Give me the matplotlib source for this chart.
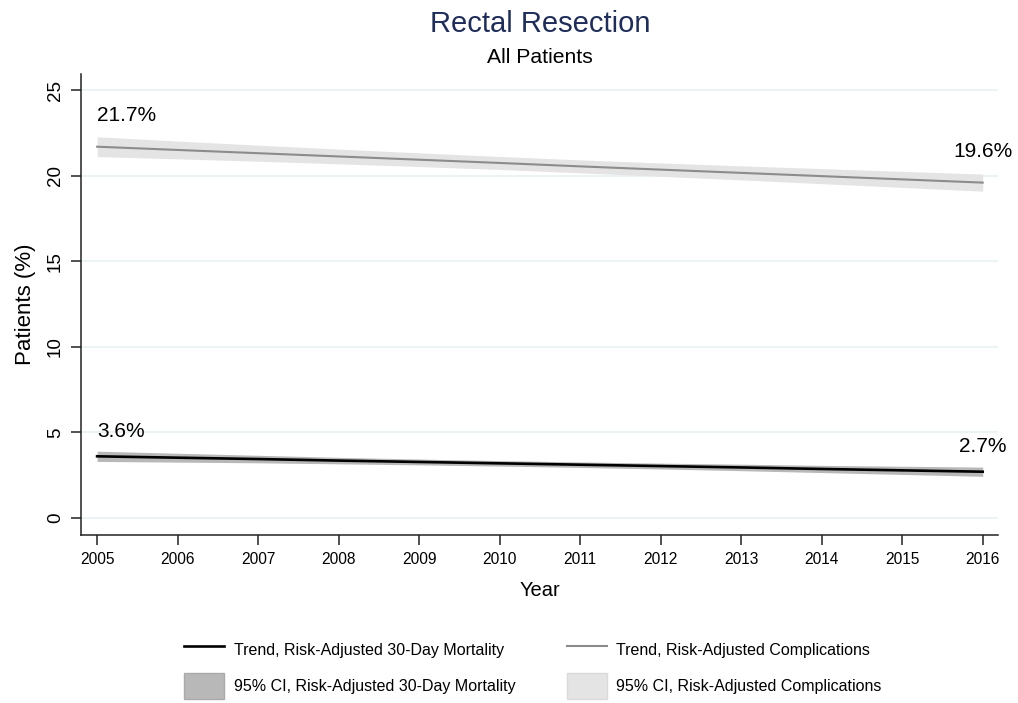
import matplotlib
matplotlib.use("Agg")
import matplotlib.pyplot as plt
from matplotlib.lines import Line2D
from matplotlib.patches import Patch

plt.rcParams['font.family'] = ['Liberation Sans', 'DejaVu Sans']

years = [2005, 2006, 2007, 2008, 2009, 2010, 2011, 2012, 2013, 2014, 2015, 2016]
comp = [21.70, 21.51, 21.32, 21.13, 20.94, 20.75, 20.55, 20.36, 20.17, 19.98, 19.79, 19.60]
comp_lo = [21.12, 20.99, 20.85, 20.70, 20.54, 20.37, 20.17, 19.97, 19.76, 19.54, 19.32, 19.10]
comp_hi = [22.28, 22.03, 21.79, 21.56, 21.34, 21.13, 20.93, 20.75, 20.58, 20.42, 20.26, 20.10]
mort = [3.60, 3.52, 3.44, 3.35, 3.27, 3.19, 3.11, 3.03, 2.95, 2.86, 2.78, 2.70]
mort_lo = [3.30, 3.26, 3.22, 3.16, 3.10, 3.03, 2.95, 2.86, 2.76, 2.65, 2.54, 2.43]
mort_hi = [3.90, 3.78, 3.66, 3.54, 3.44, 3.35, 3.27, 3.20, 3.14, 3.07, 3.02, 2.97]
yticks = [0, 5, 10, 15, 20, 25]

legend_labels = ["Trend, Risk-Adjusted 30-Day Mortality",
                 "95% CI, Risk-Adjusted 30-Day Mortality",
                 "Trend, Risk-Adjusted Complications",
                 "95% CI, Risk-Adjusted Complications"]

W, H = 1018, 703
fig = plt.figure(figsize=(W / 100, H / 100), dpi=100)
ax = fig.add_axes([81 / W, 1 - 535 / H, (998 - 81) / W, (535 - 74) / H])

C_COMP = '#8c8c8c'
C_COMP_CI = '#e4e4e4'
C_MORT = '#000000'
C_MORT_CI = '#b8b8b8'

ax.fill_between(years, comp_lo, comp_hi, color=C_COMP_CI, lw=0, zorder=2)
ax.fill_between(years, mort_lo, mort_hi, color=C_MORT_CI, lw=0, zorder=2)
ax.plot(years, comp, color=C_COMP, lw=1.5, zorder=3)
ax.plot(years, mort, color=C_MORT, lw=1.9, zorder=3)

# annotations
ax.text(years[0], comp[0] + 1.5, f"{comp[0]:.1f}%", ha='left', va='baseline', fontsize=15)
ax.text(years[-1], comp[-1] + 1.5, f"{comp[-1]:.1f}%", ha='center', va='baseline', fontsize=15)
ax.text(years[0], mort[0] + 1.12, f"{mort[0]:.1f}%", ha='left', va='baseline', fontsize=15)
ax.text(years[-1], mort[-1] + 1.15, f"{mort[-1]:.1f}%", ha='center', va='baseline', fontsize=15)

ax.set_xlim(2004.8, 2016.19)
ax.set_ylim(-1.0, 25.95)
ax.set_xticks(years)
ax.set_xticklabels([str(y) for y in years])
ax.set_yticks(yticks)
ax.set_yticklabels([str(t) for t in yticks])

for s in ['top', 'right']:
    ax.spines[s].set_visible(False)
for s in ['left', 'bottom']:
    ax.spines[s].set_linewidth(1.1)
    ax.spines[s].set_color('#222222')

ax.grid(axis='y', color='#eaf2f3', lw=1.3, zorder=0)
ax.set_axisbelow(True)
ax.tick_params(axis='x', length=7.2, width=1.1, color='#222222', labelsize=11.2, pad=5)
ax.tick_params(axis='y', length=7.2, width=1.1, color='#222222', labelsize=13.5, pad=5,
               labelrotation=90)
for lab in ax.get_yticklabels():
    lab.set_va('center')
    lab.set_ha('right')

ax.set_xlabel("Year", fontsize=14.5, labelpad=10)
ax.set_ylabel("Patients (%)", fontsize=16, labelpad=8)

fig.text(540 / W, 1 - 32 / H, "Rectal Resection", ha='center', va='baseline',
         fontsize=21, color='#1f2d5a')
fig.text(540 / W, 1 - 63 / H, "All Patients", ha='center', va='baseline', fontsize=15.2)

handles = [Line2D([], [], color=C_MORT, lw=1.9),
           Patch(facecolor=C_MORT_CI, edgecolor='#aaaaaa', lw=1),
           Line2D([], [], color=C_COMP, lw=1.5),
           Patch(facecolor=C_COMP_CI, edgecolor='#dadada', lw=1)]
fig.legend(handles, legend_labels, ncol=2, loc='center',
           bbox_to_anchor=(533 / W, 1 - 668 / H), frameon=False,
           fontsize=11.5, handlelength=2.5, handleheight=2.1, handletextpad=0.6,
           labelspacing=0.6, columnspacing=3.2)

fig.savefig("out.png", dpi=100)
